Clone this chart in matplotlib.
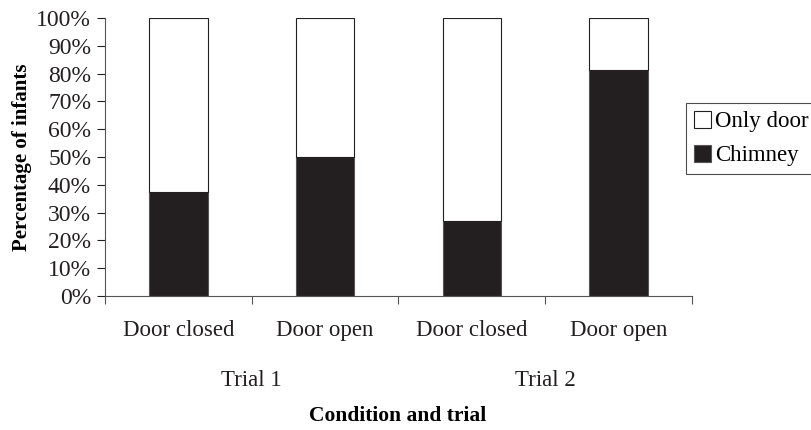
import numpy as np
from matplotlib import pyplot as plt
from matplotlib.ticker import PercentFormatter

plt.rcParams['font.family'] = ['Liberation Serif', 'DejaVu Serif']

# Données
conditions = ['Door closed', 'Door open', 'Door closed', 'Door open']
trials = ['Trial 1', 'Trial 2']
chimney = [37.5, 50.0, 27.0, 81.2]
only_door = [100 - v for v in chimney]

fig = plt.figure(figsize=(8.12, 4.30), dpi=100)
ax = fig.add_axes([105 / 812, 1 - 296 / 430, (692 - 105) / 812, (296 - 18) / 430])

x = np.arange(len(conditions))
b1 = ax.bar(x, chimney, width=0.4, color='#231f20', edgecolor='#555555', linewidth=0.8, label='Chimney')
b2 = ax.bar(x, only_door, width=0.4, bottom=chimney, color='white', edgecolor='#231f20',
            linewidth=0.8, label='Only door')

ax.set_xlim(-0.5, len(conditions) - 0.5)
ax.set_ylim(0, 100)
ax.set_yticks(np.arange(0, 101, 10))
ax.yaxis.set_major_formatter(PercentFormatter(decimals=0))
ax.tick_params(axis='y', labelsize=17, length=6, width=0.8, pad=4, colors='#231f20')

# Ticks de l'axe x aux frontières entre catégories
ax.set_xticks(np.arange(-0.5, len(conditions), 1.0))
ax.set_xticklabels([])
ax.tick_params(axis='x', length=6, width=0.8, direction='out', colors='#555555')
for xi, lab in zip(x, conditions):
    ax.text(xi, -8.5, lab, ha='center', va='top', fontsize=16.5, color='#231f20')
for i, lab in enumerate(trials):
    ax.text(2 * i + 0.5, -26.5, lab, ha='center', va='top', fontsize=16.5, color='#231f20')

for s in ['top', 'right']:
    ax.spines[s].set_visible(False)
for s in ['left', 'bottom']:
    ax.spines[s].set_color('#555555')
    ax.spines[s].set_linewidth(0.8)

ax.set_ylabel('Percentage of infants', fontsize=15, fontweight='bold', labelpad=3)
fig.text(398 / 812, 1 - 416 / 430, 'Condition and trial', ha='center', va='center',
         fontsize=15.5, fontweight='bold')

leg = ax.legend(handles=[b2, b1], loc='upper left', bbox_to_anchor=(686 / 812, 1 - 103 / 430),
                bbox_transform=fig.transFigure, fontsize=16.5, frameon=True, fancybox=False,
                handlelength=0.75, handleheight=0.75, handletextpad=0.15, borderpad=0.35,
                borderaxespad=0, labelspacing=0.55)
leg.get_frame().set_edgecolor('#231f20')
leg.get_frame().set_linewidth(0.8)

plt.savefig('out.png', dpi=100)
